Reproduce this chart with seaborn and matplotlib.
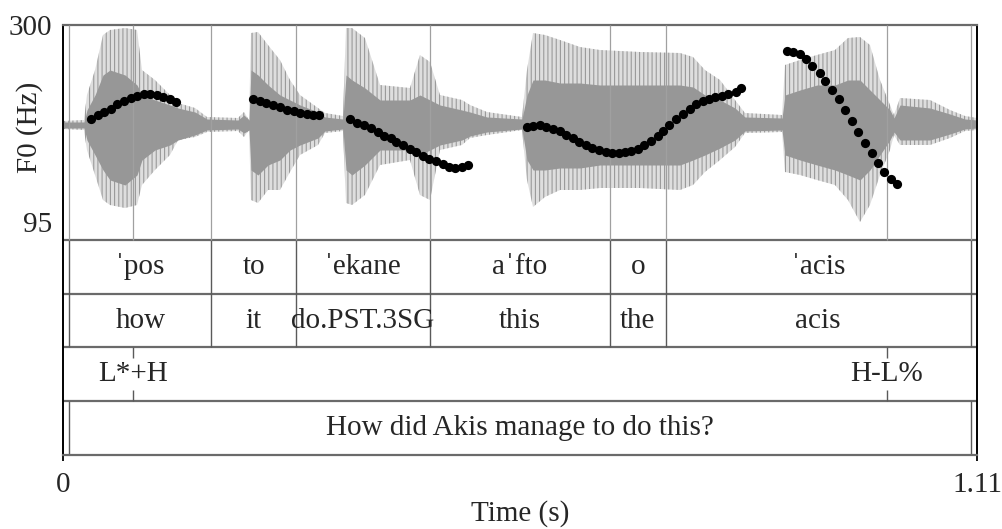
import numpy as np
import pandas as pd
import matplotlib
matplotlib.use("Agg")
import matplotlib.pyplot as plt
import seaborn as sns

# ---------------- data ----------------
# F0 contours (time in s, F0 in Hz)
f0_time_pos = [0.034, 0.042, 0.050, 0.058, 0.066, 0.074, 0.082, 0.090, 0.098, 0.106, 0.114, 0.122, 0.130, 0.137]
f0_hz_pos = [202, 206, 209, 213, 218, 221, 224, 226, 228, 228, 227, 225, 223, 220]

f0_time_to = [0.231, 0.239, 0.247, 0.255, 0.264, 0.272, 0.280, 0.288, 0.296, 0.304, 0.311]
f0_hz_to = [223, 221, 219, 217, 215, 212, 210, 208, 207, 206, 206]

f0_time_ekane = [0.349, 0.357, 0.366, 0.374, 0.382, 0.390, 0.398, 0.405, 0.413, 0.421,
                 0.429, 0.437, 0.445, 0.453, 0.461, 0.469, 0.476, 0.485, 0.492]
f0_hz_ekane = [202, 198, 196, 193, 189, 185, 182, 178, 175, 171,
               168, 164, 161, 158, 155, 152, 151.5, 152, 154]

f0_time_afto = [0.563, 0.571, 0.579, 0.587, 0.595, 0.604, 0.611, 0.619, 0.627, 0.635,
                0.643, 0.651, 0.659, 0.667, 0.675, 0.683, 0.690, 0.698, 0.706, 0.714,
                0.722, 0.729, 0.736, 0.744, 0.753, 0.761, 0.769, 0.777, 0.785, 0.792,
                0.800, 0.808, 0.817, 0.823]
f0_hz_afto = [193.5, 195, 195.5, 194, 192, 189.5, 186, 182.5, 178, 175,
              172, 169.5, 167.5, 166.5, 166.5, 167.5, 169, 171.5, 175, 179,
              184, 189.5, 196, 202, 207.5, 213, 218, 221, 223.5, 225.5,
              226.5, 228, 230.5, 234.5]

f0_time_acis = [0.879, 0.887, 0.895, 0.902, 0.910, 0.919, 0.926, 0.934, 0.942,
                0.950, 0.958, 0.966, 0.974, 0.982, 0.990, 0.997, 1.005, 1.013]
f0_hz_acis = [273, 272, 269.5, 264.5, 257.5, 250.5, 241.5, 232.5, 222.5,
              211.5, 200.5, 189, 177.5, 166.5, 156.5, 147.5, 139.5, 134.5]

# waveform envelope (time s, relative amplitude)
wave_time = [0.0, 0.0255, 0.0291, 0.0389, 0.0486, 0.0571, 0.0753, 0.0899, 0.0959, 0.1117,
             0.1299, 0.1397, 0.1603, 0.1749, 0.2125, 0.2198, 0.2259, 0.2283, 0.2368, 0.2490,
             0.2635, 0.2757, 0.2878, 0.3097, 0.3182, 0.3400, 0.3437, 0.3510, 0.3667, 0.3850,
             0.4214, 0.4335, 0.4457, 0.4578, 0.4845, 0.4943, 0.5149, 0.5574, 0.5635, 0.5708,
             0.5853, 0.6036, 0.6278, 0.6521, 0.7007, 0.7493, 0.7651, 0.7796, 0.7979, 0.8161,
             0.8282, 0.8732, 0.8768, 0.8950, 0.9157, 0.9375, 0.9533, 0.9679, 0.9800, 0.9922,
             1.0043, 1.0092, 1.0165, 1.0529, 1.0772, 1.0954, 1.1100]
wave_outer_top = [0.04, 0.05, 0.30, 0.55, 0.90, 0.95, 0.97, 0.95, 0.55, 0.45,
                  0.30, 0.22, 0.17, 0.08, 0.07, 0.13, 0.05, 0.92, 0.93, 0.80,
                  0.65, 0.45, 0.30, 0.17, 0.12, 0.09, 0.97, 0.97, 0.87, 0.40,
                  0.37, 0.70, 0.63, 0.30, 0.25, 0.20, 0.13, 0.08, 0.55, 0.92,
                  0.90, 0.85, 0.78, 0.75, 0.73, 0.72, 0.68, 0.55, 0.45, 0.25,
                  0.12, 0.10, 0.60, 0.65, 0.70, 0.75, 0.87, 0.88, 0.80, 0.45,
                  0.20, 0.10, 0.27, 0.25, 0.15, 0.09, 0.07]
wave_outer_bottom = [-0.04, -0.05, -0.25, -0.50, -0.75, -0.80, -0.83, -0.80, -0.60, -0.45,
                     -0.30, -0.15, -0.12, -0.07, -0.06, -0.12, -0.05, -0.75, -0.78, -0.65,
                     -0.65, -0.47, -0.30, -0.20, -0.08, -0.06, -0.78, -0.80, -0.70, -0.40,
                     -0.35, -0.70, -0.75, -0.25, -0.20, -0.13, -0.10, -0.05, -0.55, -0.82,
                     -0.72, -0.65, -0.65, -0.63, -0.63, -0.65, -0.60, -0.47, -0.35, -0.22,
                     -0.08, -0.07, -0.47, -0.50, -0.55, -0.60, -0.75, -0.97, -0.80, -0.50,
                     -0.25, -0.10, -0.20, -0.20, -0.13, -0.06, -0.05]
wave_core_top = [0.03, 0.03, 0.15, 0.30, 0.50, 0.55, 0.50, 0.40, 0.30, 0.25,
                 0.20, 0.17, 0.13, 0.06, 0.05, 0.10, 0.05, 0.55, 0.50, 0.40,
                 0.30, 0.25, 0.20, 0.13, 0.08, 0.06, 0.50, 0.45, 0.37, 0.25,
                 0.25, 0.30, 0.25, 0.20, 0.15, 0.13, 0.08, 0.06, 0.30, 0.45,
                 0.45, 0.42, 0.42, 0.40, 0.40, 0.40, 0.38, 0.30, 0.25, 0.17,
                 0.08, 0.07, 0.30, 0.35, 0.40, 0.40, 0.45, 0.45, 0.35, 0.25,
                 0.15, 0.07, 0.20, 0.17, 0.11, 0.06, 0.05]
wave_core_bottom = [-0.03, -0.03, -0.15, -0.30, -0.45, -0.55, -0.60, -0.50, -0.35, -0.25,
                    -0.20, -0.15, -0.10, -0.05, -0.04, -0.08, -0.05, -0.45, -0.50, -0.40,
                    -0.35, -0.25, -0.20, -0.13, -0.06, -0.04, -0.45, -0.50, -0.40, -0.25,
                    -0.25, -0.30, -0.25, -0.20, -0.15, -0.11, -0.07, -0.04, -0.35, -0.45,
                    -0.45, -0.43, -0.43, -0.40, -0.40, -0.40, -0.35, -0.30, -0.23, -0.15,
                    -0.06, -0.05, -0.30, -0.35, -0.40, -0.45, -0.50, -0.55, -0.45, -0.30,
                    -0.15, -0.07, -0.15, -0.15, -0.09, -0.04, -0.03]

# TextGrid tiers
word_bounds = [0.0077, 0.1801, 0.2833, 0.4453, 0.6643, 0.7319, 1.1023]
words = ["ˈpos", "to", "ˈekane", "aˈfto", "o", "ˈacis"]
glosses = ["how", "it", "do.PST.3SG", "this", "the", "acis"]
tone_times = [0.0854, 1.0003]
tones = ["L*+H", "H-L%"]
sentence_bounds = [0.0077, 1.1023]
sentences = ["How did Akis manage to do this?"]

x_max = 1.11
f0_ticks = [95, 300]

# ---------------- style ----------------
sns.set_style("white")
plt.rcParams["font.family"] = ["Liberation Serif", "DejaVu Serif"]
plt.rcParams["hatch.linewidth"] = 0.8
FS = 21

W, H = 1003, 529
fig = plt.figure(figsize=(W / 100, H / 100), dpi=100)


def rect(x0, y0, x1, y1):
    return [x0 / W, 1 - y1 / H, (x1 - x0) / W, (y1 - y0) / H]


LEFT, RIGHT, TOP, WAVE_BOT, BOT = 63, 977, 25, 240, 455
rows = [240, 294, 347, 401, 455]

ax_wave = fig.add_axes(rect(LEFT, TOP, RIGHT, WAVE_BOT))
ax_tiers = fig.add_axes(rect(LEFT, TOP, RIGHT, BOT))
ax_f0 = fig.add_axes(rect(LEFT, TOP, RIGHT, WAVE_BOT))

# waveform
ax_wave.set_xlim(0, x_max)
ax_wave.set_ylim(-1.15, 1.0)
ax_wave.axis("off")
ax_wave.fill_between(wave_time, wave_outer_bottom, wave_outer_top,
                     facecolor="#dedede", hatch="||||", edgecolor="#9a9a9a", linewidth=0)
ax_wave.fill_between(wave_time, wave_core_bottom, wave_core_top, color="#979797", linewidth=0)

# tiers / frame (y in layout units: pixels from top)
ax_tiers.set_facecolor("none")
ax_tiers.set_xlim(0, x_max)
ax_tiers.set_ylim(BOT, TOP)
ax_tiers.set_yticks([])
for s in ["left", "right"]:
    ax_tiers.spines[s].set_color("black")
    ax_tiers.spines[s].set_linewidth(1.4)
for s in ["top", "bottom"]:
    ax_tiers.spines[s].set_color("#6a6a6a")
    ax_tiers.spines[s].set_linewidth(1.6)

all_marks = sorted(set(word_bounds + tone_times))
ax_tiers.vlines(all_marks, TOP, WAVE_BOT, color="#a0a0a0", lw=0.9, zorder=3)
ax_tiers.hlines(rows[:-1], 0, x_max, color="#6a6a6a", lw=1.6)
ax_tiers.vlines(word_bounds, rows[0], rows[2], color="#5a5a5a", lw=1.0)
ax_tiers.vlines(tone_times, rows[2], rows[2] + 11, color="#5a5a5a", lw=1.0)
ax_tiers.vlines(tone_times, rows[3] - 11, rows[3], color="#5a5a5a", lw=1.0)
ax_tiers.vlines(sentence_bounds, rows[3], rows[4], color="#5a5a5a", lw=1.0)


def tier_text(bounds, labels, ymid):
    for i, lab in enumerate(labels):
        ax_tiers.text((bounds[i] + bounds[i + 1]) / 2, ymid, lab, ha="center",
                      va="center", fontsize=FS)


tier_text(word_bounds, words, (rows[0] + rows[1]) / 2)
tier_text(word_bounds, glosses, (rows[1] + rows[2]) / 2)
for t, lab in zip(tone_times, tones):
    ax_tiers.text(t, (rows[2] + rows[3]) / 2, lab, ha="center", va="center", fontsize=FS)
tier_text(sentence_bounds, sentences, (rows[3] + rows[4]) / 2)

ax_tiers.set_xticks([0, x_max])
ax_tiers.set_xticklabels(["0", "1.11"])
ax_tiers.tick_params(axis="x", direction="out", length=4.5, width=1.3, color="black",
                     pad=8, labelsize=FS, bottom=True)
ax_tiers.set_xlabel("Time (s)", fontsize=FS)
ax_tiers.xaxis.label.set_va("center")
ax_tiers.xaxis.set_label_coords(0.5, (BOT - 514) / (BOT - TOP))

# F0 dots
f0_df = pd.DataFrame({
    "time": f0_time_pos + f0_time_to + f0_time_ekane + f0_time_afto + f0_time_acis,
    "f0": f0_hz_pos + f0_hz_to + f0_hz_ekane + f0_hz_afto + f0_hz_acis,
})
ax_f0.set_facecolor("none")
sns.scatterplot(data=f0_df, x="time", y="f0", ax=ax_f0, color="black", s=44,
                linewidth=0, legend=False, zorder=5)
ax_f0.set_xlim(0, x_max)
ax_f0.set_ylim(76.3, 300)
for s in ax_f0.spines.values():
    s.set_visible(False)
ax_f0.set_xticks([])
ax_f0.set_xlabel("")
ax_f0.set_yticks(f0_ticks)
ax_f0.set_yticklabels([str(v) for v in f0_ticks])
ax_f0.tick_params(axis="y", length=0, pad=8, labelsize=FS)
ax_f0.set_ylabel("F0 (Hz)", fontsize=FS)
ax_f0.yaxis.label.set_va("center")
ax_f0.yaxis.set_label_coords((30 - LEFT) / (RIGHT - LEFT), (WAVE_BOT - 127) / (WAVE_BOT - TOP))

fig.savefig("out.png", dpi=100)
